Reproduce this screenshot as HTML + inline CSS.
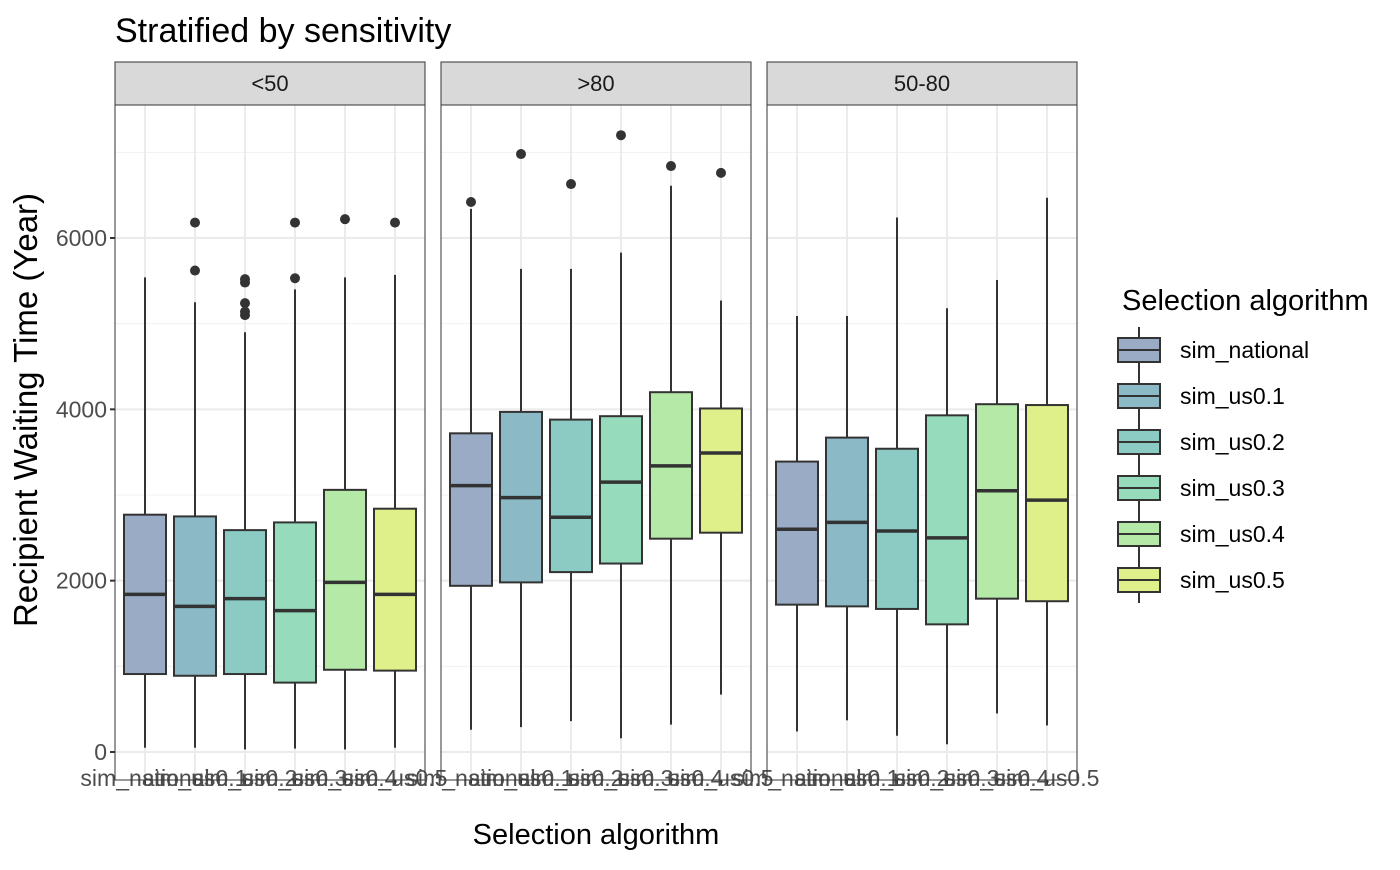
<!DOCTYPE html>
<html><head><meta charset="utf-8"><style>
body{margin:0;background:#fff;}
svg text{font-family:"Liberation Sans",Arial,sans-serif;}
</style></head><body>
<svg id="chart" width="1400" height="865" viewBox="0 0 1400 865" xmlns="http://www.w3.org/2000/svg">
<text x="115" y="42" font-size="34" fill="#000">Stratified by sensitivity</text>
<text x="596" y="844" font-size="29" fill="#000" text-anchor="middle">Selection algorithm</text>
<text transform="translate(37,410) rotate(-90)" font-size="33" fill="#000" text-anchor="middle">Recipient Waiting Time (Year)</text>
<g id="plots"></g>
<g id="legend"></g>
</svg>
<script>
const facets = ["<50", ">80", "50-80"];
const categories = ["sim_national","sim_us0.1","sim_us0.2","sim_us0.3","sim_us0.4","sim_us0.5"];
const colors = ["#9aabc6","#8bb9c6","#8bcbc4","#96dcbc","#b5e9a7","#dff08b"];
const yTicks = [0,2000,4000,6000];
const yMinor = [1000,3000,5000,7000];
// [low, q1, median, q3, high] per facet per category
const stats_lt50 = [[50,910,1840,2770,5540],[50,890,1700,2750,5250],[30,910,1790,2590,4900],[40,810,1650,2680,5400],[30,960,1980,3060,5540],[50,950,1840,2840,5570]];
const stats_gt80 = [[260,1940,3110,3720,6340],[290,1980,2970,3970,5640],[360,2100,2740,3880,5640],[160,2200,3150,3920,5830],[320,2490,3340,4200,6610],[670,2560,3490,4010,5270]];
const stats_50_80 = [[240,1720,2600,3390,5090],[370,1700,2680,3670,5090],[190,1670,2580,3540,6240],[90,1490,2500,3930,5180],[450,1790,3050,4060,5510],[310,1760,2940,4050,6470]];
const outliers_lt50 = [[],[5620,6180],[5100,5140,5240,5480,5520],[5530,6180],[6220],[6180]];
const outliers_gt80 = [[6420],[6980],[6630],[7200],[6840],[6760]];
const outliers_50_80 = [[],[],[],[],[],[]];
const allStats=[stats_lt50,stats_gt80,stats_50_80];
const allOut=[outliers_lt50,outliers_gt80,outliers_50_80];

const NS="http://www.w3.org/2000/svg";
const panelX=[115,441,767], panelW=310, panelTop=105, panelBot=780;
const y=v=>752-(v)*(514/6000);
function mk(tag,attrs,parent){const e=document.createElementNS(NS,tag);for(const k in attrs)e.setAttribute(k,attrs[k]);parent.appendChild(e);return e;}
const plots=document.getElementById('plots');
facets.forEach((f,fi)=>{
  const px=panelX[fi];
  const xs=i=>px+30+i*50;
  const g=mk('g',{},plots);
  
  
  const strip=mk('rect',{x:px,y:62,width:panelW,height:43,fill:'#d9d9d9',stroke:'#333','stroke-width':1},g);
  
  
  const st=mk('text',{x:px+panelW/2,y:91,'font-size':22,fill:'#1a1a1a','text-anchor':'middle'},g);st.textContent=f;
  
  
  yMinor.forEach(v=>mk('line',{x1:px,x2:px+panelW,y1:y(v),y2:y(v),stroke:'#f0f0f0','stroke-width':1},g));
  yTicks.forEach(v=>mk('line',{x1:px,x2:px+panelW,y1:y(v),y2:y(v),stroke:'#ebebeb','stroke-width':2},g));
  categories.forEach((c,i)=>mk('line',{x1:xs(i),x2:xs(i),y1:panelTop,y2:panelBot,stroke:'#ebebeb','stroke-width':2},g));
  categories.forEach((c,i)=>{
    const s=allStats[fi][i], cx=xs(i), hw=21;
    const bg=mk('g',{},g);
    
    
    mk('line',{x1:cx,x2:cx,y1:y(s[0]),y2:y(s[1]),stroke:'#333','stroke-width':2},bg);
    mk('line',{x1:cx,x2:cx,y1:y(s[3]),y2:y(s[4]),stroke:'#333','stroke-width':2},bg);
    mk('rect',{x:cx-hw,y:y(s[3]),width:hw*2,height:y(s[1])-y(s[3]),fill:colors[i],stroke:'#333','stroke-width':2},bg);
    mk('line',{x1:cx-hw,x2:cx+hw,y1:y(s[2]),y2:y(s[2]),stroke:'#333','stroke-width':3.5},bg);
    allOut[fi][i].forEach(o=>{const p=mk('circle',{cx:cx,cy:y(o),r:5,fill:'#333'},bg);
      
      });
    mk('line',{x1:cx,x2:cx,y1:panelBot,y2:panelBot+5,stroke:'#333','stroke-width':2},g);
    const t=mk('text',{x:cx,y:786,'font-size':23,fill:'#4d4d4d','text-anchor':'middle'},g);t.textContent=c;
    
    
  });
  const border=mk('rect',{x:px,y:panelTop,width:panelW,height:panelBot-panelTop,fill:'none',stroke:'#333','stroke-width':1},g);
  
  
  if(fi===0){
    yTicks.forEach(v=>{mk('line',{x1:px-5,x2:px,y1:y(v),y2:y(v),stroke:'#333','stroke-width':2},g);
      const t=mk('text',{x:px-8,y:y(v)+8,'font-size':23,fill:'#4d4d4d','text-anchor':'end'},g);t.textContent=v;
      
      });
  }
});
const lg=document.getElementById('legend');


const lt=mk('text',{x:1122,y:310,'font-size':29,fill:'#000'},lg);lt.textContent='Selection algorithm';


categories.forEach((c,i)=>{
  const cy=350+i*46;
  const e=mk('g',{},lg);
  
  
  mk('line',{x1:1139,x2:1139,y1:cy-23,y2:cy+23,stroke:'#333','stroke-width':2},e);
  mk('rect',{x:1118,y:cy-12,width:42,height:24,fill:colors[i],stroke:'#333','stroke-width':2},e);
  mk('line',{x1:1118,x2:1160,y1:cy,y2:cy,stroke:'#333','stroke-width':2},e);
  const t=mk('text',{x:1180,y:cy+8,'font-size':23,fill:'#000'},e);t.textContent=c;
});
</script>
</body></html>
